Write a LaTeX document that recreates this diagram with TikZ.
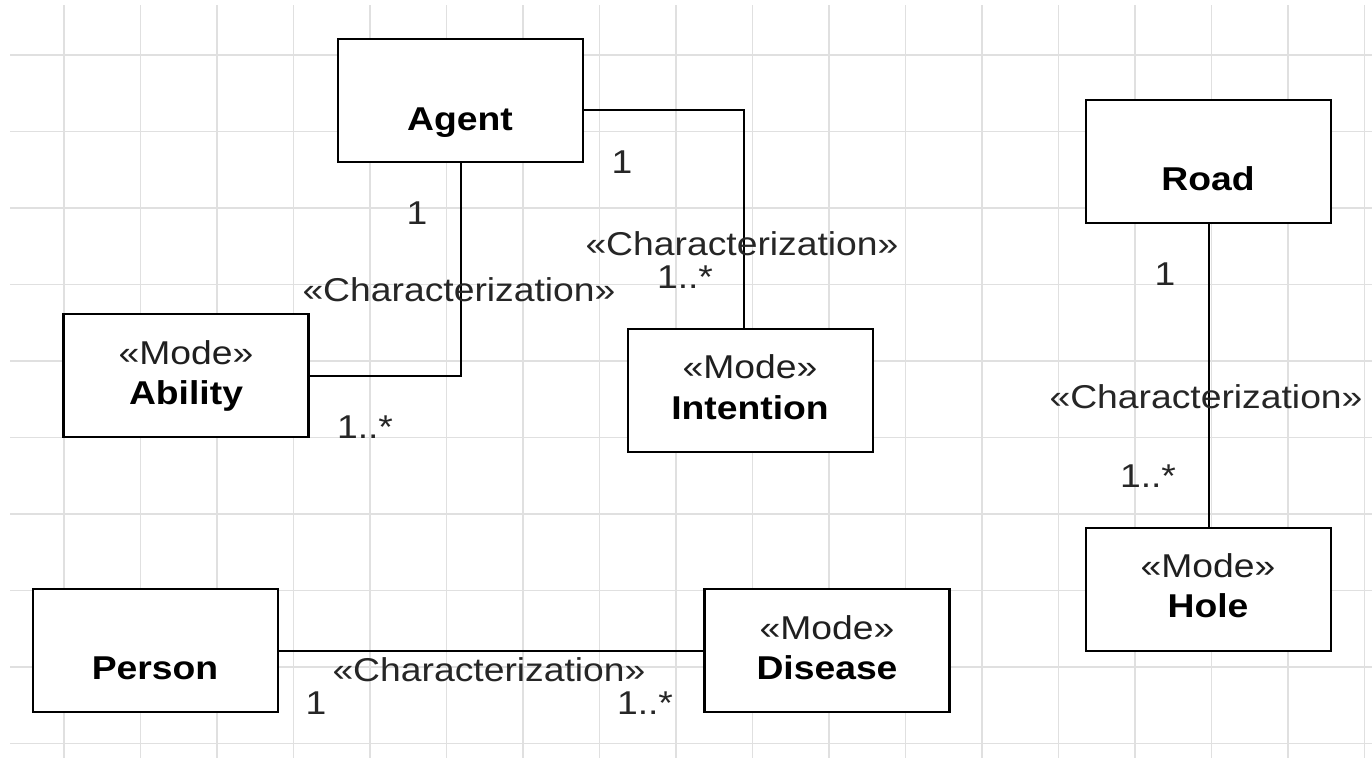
\documentclass[tikz,border=0pt]{standalone}
\usepackage{fontspec}
\setmainfont[FakeStretch=1.13]{Liberation Sans}
\begin{document}
\begin{tikzpicture}[x=1pt,y=-1pt,
  every node/.style={inner sep=0pt,outer sep=0pt,font=\fontsize{33}{38}\selectfont},
  classbox/.style={draw=black,line width=2.5pt,fill=white,minimum width=245pt,minimum height=123pt},
  cname/.style={anchor=base,font=\fontsize{33}{38}\selectfont\bfseries,text=black},
  stereo/.style={anchor=base,text=black!88},
  assoc/.style={anchor=base,text=black!85},
  link/.style={draw=black,line width=2pt},
  gridline/.style={draw=black!12,line width=1.4pt}]
\useasboundingbox (0,0) rectangle (1372,758);
\fill[white] (0,0) rectangle (1372,758);
% background grid
\foreach \k in {0,...,17} \draw[gridline] (64+76.5*\k,5) -- (64+76.5*\k,758);
\foreach \k in {0,...,9} \draw[gridline] (10,55+76.5*\k) -- (1372,55+76.5*\k);
% classes
\node[classbox] (agent) at (460.5,100.5) {};
\node[classbox] (road) at (1208.5,161.5) {};
\node[classbox] (ability) at (186,375.5) {};
\node[classbox] (intention) at (750.5,390.5) {};
\node[classbox] (hole) at (1208.5,589.5) {};
\node[classbox] (person) at (155.5,650.5) {};
\node[classbox] (disease) at (827,650.5) {};
% class names
\node[cname] (agentname) at (460,130) {Agent};
\node[cname] (roadname) at (1208,190) {Road};
\node[stereo] (abilitystereo) at (186,364) {«Mode»};
\node[cname] (abilityname) at (186,404) {Ability};
\node[stereo] (intentionstereo) at (750,378) {«Mode»};
\node[cname] (intentionname) at (750,419) {Intention};
\node[stereo] (holestereo) at (1208,577) {«Mode»};
\node[cname] (holename) at (1208,617) {Hole};
\node[cname] (personname) at (155,679) {Person};
\node[stereo] (diseasestereo) at (827,639) {«Mode»};
\node[cname] (diseasename) at (827,679) {Disease};
% associations
\draw[link] (agent.south) |- (ability.east);
\draw[link] ([yshift=-9.5pt]agent.east) -| ([xshift=-6.5pt]intention.north);
\draw[link] (road.south) -- (hole.north);
\draw[link] (person.east) -- (disease.west);
% association labels
\node[assoc] (m1) at (417,224) {1};
\node[assoc] (c1) at (459,301) {«Characterization»};
\node[assoc] (n1) at (365,438) {1..*};
\node[assoc] (m2) at (622,173) {1};
\node[assoc] (c2) at (742,255) {«Characterization»};
\node[assoc] (n2) at (685,288) {1..*};
\node[assoc] (m3) at (1165,285) {1};
\node[assoc] (c3) at (1206,408) {«Characterization»};
\node[assoc] (n3) at (1148,487) {1..*};
\node[assoc] (m4) at (316,714) {1};
\node[assoc] (c4) at (489,681) {«Characterization»};
\node[assoc] (n4) at (645,714) {1..*};
\end{tikzpicture}
\end{document}
